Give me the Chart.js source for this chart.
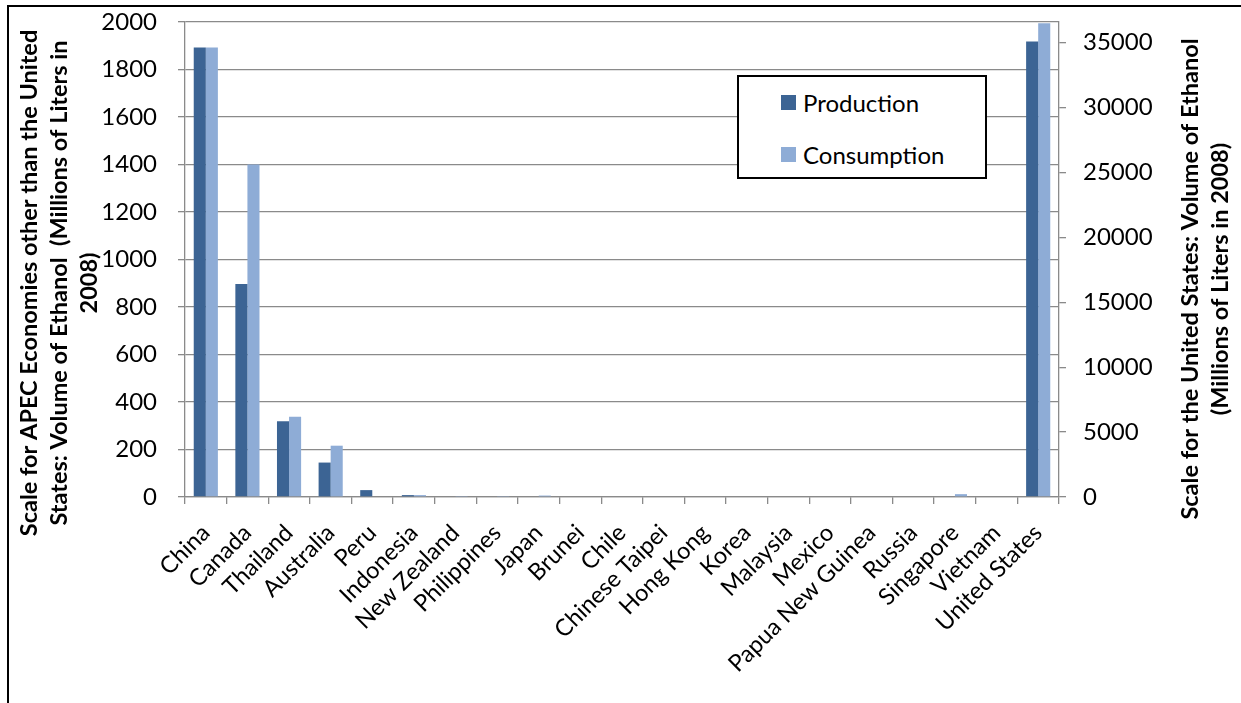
<!DOCTYPE html>
<html>
<head>
<meta charset="utf-8">
<title>APEC ethanol production and consumption 2008</title>
<script src="https://cdn.jsdelivr.net/npm/chart.js@4.4.1/dist/chart.umd.min.js"></script>
<style>
  html, body { margin: 0; padding: 0; background: #fff; }
  #wrap { position: relative; width: 1241px; height: 703px; overflow: hidden; }
  #frame { position: absolute; left: 7px; top: 5px; right: -10px; bottom: -10px;
           border-left: 2px solid #000; border-top: 2px solid #000; pointer-events: none; }
  #legend { position: absolute; left: 737px; top: 75px; width: 246px; height: 100px;
            border: 2px solid #000; background: #fff; font-family: Lato, sans-serif;
            font-size: 24px; color: #000; }
  #legend .item { position: absolute; left: 42px; display: flex; align-items: center; height: 26px; }
  #legend .sw { width: 15px; height: 15px; margin-right: 7px; }
</style>
</head>
<body>
<div id="wrap">
  <canvas id="chart" width="1241" height="703"></canvas>
  <div id="frame"></div>
  <div id="legend"></div>
</div>
<script>
const categories = ["China", "Canada", "Thailand", "Australia", "Peru", "Indonesia", "New Zealand",
  "Philippines", "Japan", "Brunei", "Chile", "Chinese Taipei", "Hong Kong", "Korea", "Malaysia",
  "Mexico", "Papua New Guinea", "Russia", "Singapore", "Vietnam", "United States"];

// left axis (all economies except the US)
const production  = [1893, 897, 319, 145, 29, 8, 0, 0, 0, 0, 0, 0, 0, 0, 0, 0, 0, 0, 0, 0, null];
const consumption = [1893, 1400, 338, 216, 0, 8, 4, 4, 6, 0, 0, 0, 0, 0, 0, 0, 0, 0, 12, 0, null];

// right axis (United States only)
const usProduction  = [null, null, null, null, null, null, null, null, null, null, null,
  null, null, null, null, null, null, null, null, null, 35100];
const usConsumption = [null, null, null, null, null, null, null, null, null, null, null,
  null, null, null, null, null, null, null, null, null, 36500];

const leftTickValues = [0, 200, 400, 600, 800, 1000, 1200, 1400, 1600, 1800, 2000];
const rightTickValues = [0, 5000, 10000, 15000, 20000, 25000, 30000, 35000];
const rightMax = 36600;

const leftTitle = ["Scale for APEC Economies other than the United",
  "States: Volume of Ethanol  (Millions of Liters in", "2008)"];
const rightTitle = ["Scale for the United States: Volume of Ethanol",
  "(Millions of Liters in 2008)"];

const PROD_COLOR = "#3c6494";
const CONS_COLOR = "#8eacd6";
const GRID = "#8a8a8a";
const FONT = "Lato, sans-serif";

// rotated axis titles, both reading bottom to top
const axisTitles = {
  id: "axisTitles",
  afterDraw(c) {
    const ctx = c.ctx;
    const draw = (lines, xs, yc) => {
      lines.forEach((t, i) => {
        ctx.save();
        ctx.translate(xs[i], yc);
        ctx.rotate(-Math.PI / 2);
        ctx.font = "bold 23.5px " + FONT;
        ctx.fillStyle = "#000";
        ctx.textAlign = "center";
        ctx.textBaseline = "middle";
        ctx.fillText(t, 0, 0);
        ctx.restore();
      });
    };
    draw(leftTitle, [29, 59, 89], 283);
    draw(rightTitle, [1190, 1220], 279);
  }
};

const setTicks = vals => s => { s.ticks = vals.map(v => ({ value: v })); };

function build() {
  const ctx = document.getElementById("chart").getContext("2d");
  new Chart(ctx, {
    type: "bar",
    data: {
      labels: categories,
      datasets: [
        { label: "Production", data: production, backgroundColor: PROD_COLOR, yAxisID: "y", stack: "p" },
        { label: "Consumption", data: consumption, backgroundColor: CONS_COLOR, yAxisID: "y", stack: "c" },
        { label: "US Production", data: usProduction, backgroundColor: PROD_COLOR, yAxisID: "y1", stack: "p" },
        { label: "US Consumption", data: usConsumption, backgroundColor: CONS_COLOR, yAxisID: "y1", stack: "c" },
      ],
    },
    options: {
      responsive: false,
      animation: false,
      layout: { padding: { top: 22, left: 0, right: 0, bottom: 0 } },
      datasets: { bar: { categoryPercentage: 0.58, barPercentage: 1.0 } },
      plugins: { legend: { display: false }, tooltip: { enabled: false } },
      scales: {
        x: {
          offset: true,
          ticks: { autoSkip: false, maxRotation: 45, minRotation: 45, padding: 15,
                   color: "#000", font: { family: FONT, size: 23.5 } },
          grid: { drawOnChartArea: false, drawTicks: true, tickLength: 7, color: GRID, lineWidth: 1.3 },
          border: { color: GRID, width: 1.3 },
          afterFit: s => { s.height = 703 - 497; },
        },
        y: {
          position: "left",
          min: 0, max: 2000,
          afterBuildTicks: setTicks(leftTickValues),
          ticks: { padding: 21, color: "#000", font: { family: FONT, size: 24 }, callback: v => String(v) },
          grid: { color: GRID, lineWidth: 1.3, tickLength: 7 },
          border: { color: GRID, width: 1.3 },
          afterFit: s => { s.width = 185; s.paddingTop = 0; s.paddingBottom = 0; },
        },
        y1: {
          position: "right",
          min: 0, max: rightMax,
          afterBuildTicks: setTicks(rightTickValues),
          ticks: { padding: 17, color: "#000", font: { family: FONT, size: 24 }, callback: v => String(v) },
          grid: { drawOnChartArea: false, color: GRID, lineWidth: 1.3, tickLength: 7 },
          border: { color: GRID, width: 1.3 },
          afterFit: s => { s.width = 1241 - 1059; s.paddingTop = 0; s.paddingBottom = 0; },
        },
      },
    },
    plugins: [axisTitles],
  });

  const legend = document.getElementById("legend");
  [["Production", PROD_COLOR, 12], ["Consumption", CONS_COLOR, 64]].forEach(([name, col, top]) => {
    const it = document.createElement("div");
    it.className = "item";
    it.style.top = top + "px";
    it.innerHTML = `<span class="sw" style="background:${col}"></span><span>${name}</span>`;
    legend.appendChild(it);
  });
}

if (document.fonts && document.fonts.load) {
  Promise.all([document.fonts.load("24px Lato"), document.fonts.load("bold 24px Lato")])
    .then(build, build);
} else {
  build();
}
</script>
</body>
</html>
